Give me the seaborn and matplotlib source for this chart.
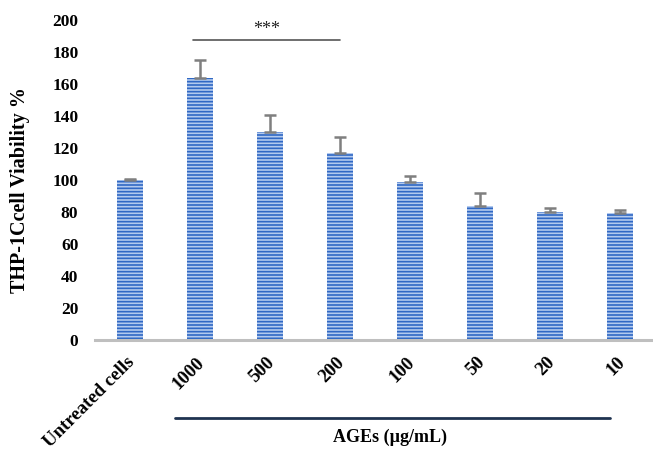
import matplotlib
matplotlib.use("Agg")
import matplotlib.pyplot as plt
import matplotlib.transforms as mtrans
import seaborn as sns
import pandas as pd
import numpy as np

categories = ["Untreated cells", "1000", "500", "200", "100", "50", "20", "10"]
viability = [100, 164, 130, 117, 98.5, 83.5, 80.3, 79.6]
sd_upper = [0.6, 11, 10.5, 10, 4, 8.5, 2.3, 1.8]
y_ticks = [0, 20, 40, 60, 80, 100, 120, 140, 160, 180, 200]
y_label = "THP-1Ccell Viability %"
x_group_label = "AGEs (µg/mL)"
sig_text = "***"

sns.set_style("white")
plt.rcParams["font.family"] = ["Liberation Serif", "DejaVu Serif"]
plt.rcParams["hatch.linewidth"] = 1.2
plt.rcParams["text.color"] = "black"
plt.rcParams["axes.labelcolor"] = "black"
plt.rcParams["xtick.color"] = "black"
plt.rcParams["ytick.color"] = "black"

df = pd.DataFrame({"cond": categories, "val": viability})

fig = plt.figure(figsize=(6.53, 4.49), dpi=100)
L = 95 / 653
ax = fig.add_axes([L, 1 - 340 / 449, 1 - L, (340 - 20) / 449])

sns.barplot(data=df, x="cond", y="val", order=categories, color="#b3caee",
            width=0.38, ax=ax, errorbar=None, saturation=1)
for p in ax.patches:
    p.set_edgecolor("#3068c4")
    p.set_linewidth(0)
    p.set_hatch("-----")

xs = np.arange(len(categories))
ax.errorbar(xs, viability, yerr=[np.zeros(len(sd_upper)), sd_upper],
            fmt="none", ecolor="#7f7f7f", elinewidth=1.8, capsize=4.5, capthick=1.8)

ax.set_xlim(-0.5, 7.47)
ax.set_ylim(0, 200)
ax.set_yticks(y_ticks)
ax.set_yticklabels([str(t) for t in y_ticks], fontsize=12.5, fontweight="bold")
ax.tick_params(axis="both", length=0, labelcolor="black")
ax.tick_params(axis="y", pad=12)
ax.tick_params(axis="x", pad=10)
ax.set_xticks(xs)
ax.set_xticklabels(categories, rotation=45, ha="right", rotation_mode="anchor",
                   fontsize=13.5, fontweight="bold")
shift = mtrans.ScaledTranslation(-4 / 100, 0, fig.dpi_scale_trans)
for lbl in ax.get_xticklabels():
    lbl.set_transform(lbl.get_transform() + shift)
ax.set_xlabel("")
ax.set_ylabel(y_label, fontsize=14.5, fontweight="bold", color="black")
ax.yaxis.set_label_coords((30 - 95) / 558, 0.47)

for s in ["top", "right", "left"]:
    ax.spines[s].set_visible(False)
ax.spines["bottom"].set_color("#bfbfbf")
ax.spines["bottom"].set_linewidth(2.2)

# significance line
ax.plot([0.9, 3.0], [187.5, 187.5], color="#555555", lw=1.2, clip_on=False)
ax.text(1.95, 188.5, sig_text, ha="center", va="bottom", fontsize=13, color="#222222")

# group bracket
fig.add_artist(plt.Line2D([175 / 653, 610 / 653], [1 - 418 / 449, 1 - 418 / 449],
                          color="#1f3350", lw=2))
fig.text(390 / 653, 1 - 437 / 449, x_group_label, ha="center", va="center",
         fontsize=13, fontweight="bold", color="black")

fig.savefig("out.png", dpi=100)
